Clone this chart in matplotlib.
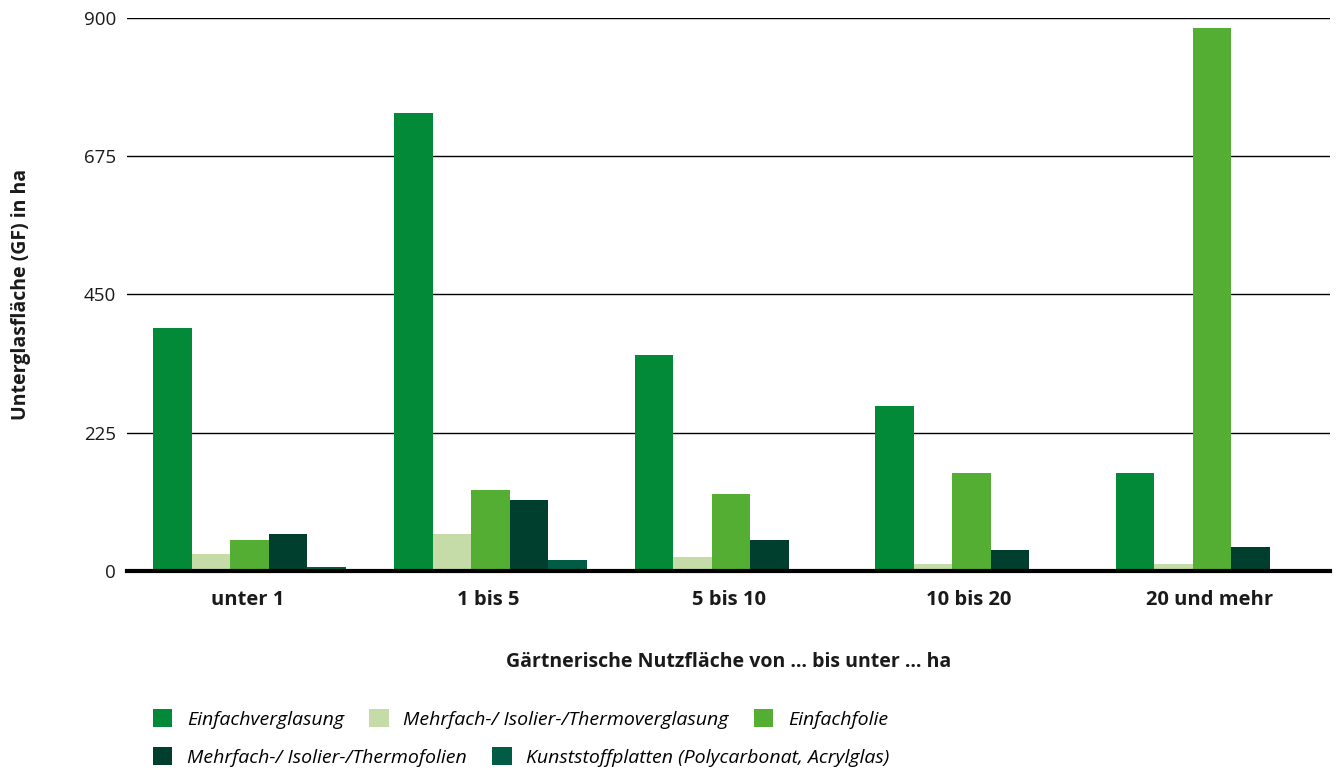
import numpy as np
import matplotlib
matplotlib.use("Agg")
import matplotlib.pyplot as plt
from matplotlib.patches import Patch

plt.rcParams['font.family'] = ['Open Sans', 'DejaVu Sans']

categories = ["unter 1", "1 bis 5", "5 bis 10", "10 bis 20", "20 und mehr"]
series_names = [
    "Einfachverglasung",
    "Mehrfach-/ Isolier-/Thermoverglasung",
    "Einfachfolie",
    "Mehrfach-/ Isolier-/Thermofolien",
    "Kunststoffplatten (Polycarbonat, Acrylglas)",
]
einfachverglasung = [395, 745, 351, 268, 159]
mehrfachverglasung = [28, 60, 22, 11, 12]
einfachfolie = [50, 132, 126, 159, 884]
mehrfachfolien = [60, 115, 50, 34, 39]
kunststoffplatten = [6.5, 18, np.nan, np.nan, np.nan]
yticks = [0, 225, 450, 675, 900]

colors = ["#038A39", "#C5DCA8", "#54AE34", "#003F2E", "#005C45"]
values = [einfachverglasung, mehrfachverglasung, einfachfolie,
          mehrfachfolien, kunststoffplatten]

fig = plt.figure(figsize=(13.37, 7.71), dpi=100)
ax = fig.add_axes([0.095, 0.2594, 0.8998, 0.7173])

x = np.arange(len(categories))
w = 0.16
for i, (vals, col) in enumerate(zip(values, colors)):
    ax.bar(x + (i - 2) * w + 0.01, vals, width=w, color=col, zorder=3, linewidth=0)

ax.set_xlim(-0.5, len(categories) - 0.5)
ax.set_ylim(0, 900)
ax.set_yticks(yticks)
ax.set_yticklabels([str(v) for v in yticks], fontsize=13.5, color="#1a1a1a")
ax.yaxis.grid(True, color="black", linewidth=1.0, zorder=1)
ax.tick_params(axis="y", length=0, pad=8)
ax.tick_params(axis="x", length=0, pad=14)
ax.set_xticks(x)
ax.set_xticklabels(categories, fontsize=14.5, fontweight="bold", color="#1a1a1a")
for s in ["top", "right", "left"]:
    ax.spines[s].set_visible(False)
ax.spines["bottom"].set_linewidth(3)
ax.spines["bottom"].set_color("black")
ax.spines["bottom"].set_zorder(4)

ax.set_xlabel("Gärtnerische Nutzfläche von … bis unter … ha", fontsize=14,
              fontweight="bold", labelpad=30, color="#1a1a1a")
ax.set_ylabel("Unterglasfläche (GF) in ha", fontsize=14, fontweight="bold",
              labelpad=38, color="#1a1a1a")

handles = [Patch(facecolor=c, edgecolor="none") for c in colors]
legend_kw = dict(frameon=False, handlelength=1.0, handleheight=1.0,
                 handletextpad=0.75, columnspacing=1.3, borderaxespad=0,
                 borderpad=0, prop={"size": 14, "style": "italic"})
leg1 = fig.legend(handles[:3], series_names[:3], ncol=3, loc="center left",
                  bbox_to_anchor=(153 / 1337, 1 - 719 / 771), **legend_kw)
leg2 = fig.legend(handles[3:], series_names[3:], ncol=2, loc="center left",
                  bbox_to_anchor=(153 / 1337, 1 - 757 / 771), **legend_kw)

fig.savefig("out.png", dpi=100)
